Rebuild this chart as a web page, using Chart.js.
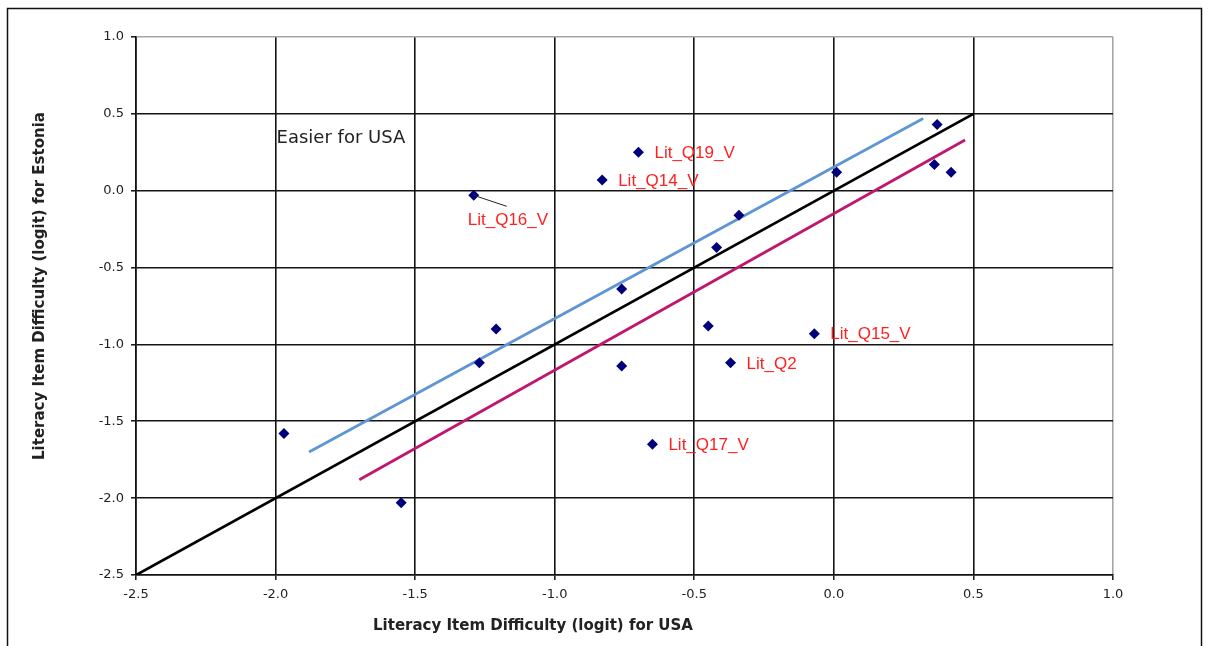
<!DOCTYPE html>
<html>
<head>
<meta charset="utf-8">
<script src="https://cdn.jsdelivr.net/npm/chart.js@4/dist/chart.umd.min.js"></script>
<style>
  html, body { margin: 0; padding: 0; background: #fff; }
  #wrap { width: 1208px; height: 646px; }
</style>
</head>
<body>
<div id="wrap"><canvas id="itemChart" width="1208" height="646"></canvas></div>
<script>
// item difficulties (logit), USA on x, Estonia on y
const usaDifficulty = [-1.97, -1.55, -1.21, -1.27, -0.76, -0.45, -0.37, -0.07, -0.65,
                       -1.29, -0.83, -0.70, -0.34, -0.42, -0.76, 0.01, 0.37, 0.36, 0.42];
const estoniaDifficulty = [-1.58, -2.03, -0.90, -1.12, -1.14, -0.88, -1.12, -0.93, -1.65,
                           -0.03, 0.07, 0.25, -0.16, -0.37, -0.64, 0.12, 0.43, 0.17, 0.12];
const itemLabels = ['', '', '', '', '', '', 'Lit_Q2', 'Lit_Q15_V', 'Lit_Q17_V',
                    'Lit_Q16_V', 'Lit_Q14_V', 'Lit_Q19_V', '', '', '', '', '', '', ''];

// reference lines
const identityX = [-2.5, 0.5];
const identityY = [-2.5, 0.5];
const upperBandX = [-1.88, 0.32];
const upperBandY = [-1.70, 0.47];
const lowerBandX = [-1.70, 0.47];
const lowerBandY = [-1.88, 0.33];

const axisMin = -2.5;
const axisMax = 1.0;
const axisStep = 0.5;

const toPoints = (xs, ys) => xs.map((x, i) => ({ x: x, y: ys[i] }));

const frame = {
  id: 'frame',
  beforeDraw(chart) {
    const c = chart.ctx;
    c.save();
    c.fillStyle = '#fff';
    c.fillRect(0, 0, chart.width, chart.height);
    c.strokeStyle = '#111';
    c.lineWidth = 1.5;
    c.strokeRect(7.5, 8.5, 1194, 700);
    c.restore();
  }
};

const labelOffsets = { 'Lit_Q16_V': { dx: -6, dy: 24, lead: [33, 11] } };

const notes = {
  id: 'notes',
  afterDatasetsDraw(chart) {
    const c = chart.ctx;
    const meta = chart.getDatasetMeta(0);
    c.save();
    c.font = '17px "Liberation Sans", Arial, sans-serif';
    c.fillStyle = '#ff1f1f';
    c.textBaseline = 'middle';
    c.textAlign = 'left';
    meta.data.forEach((pt, i) => {
      const txt = itemLabels[i];
      if (!txt) return;
      const off = labelOffsets[txt] || { dx: 16, dy: 0 };
      if (off.lead) {
        c.strokeStyle = '#222';
        c.lineWidth = 1;
        c.beginPath();
        c.moveTo(pt.x, pt.y);
        c.lineTo(pt.x + off.lead[0], pt.y + off.lead[1]);
        c.stroke();
      }
      c.fillText(txt, pt.x + off.dx, pt.y + off.dy + 1);
    });

    const xs = chart.scales.x, ys = chart.scales.y;
    c.fillStyle = '#222';
    c.font = '18px "DejaVu Sans", sans-serif';
    c.fillText('Easier for USA', xs.getPixelForValue(-2.0) + 1, ys.getPixelForValue(0.34));

    c.font = 'bold 15px "DejaVu Sans", sans-serif';
    c.textAlign = 'center';
    c.fillText('Literacy Item Difficulty (logit) for USA', 533, 626);
    c.translate(40, 286);
    c.rotate(-Math.PI / 2);
    c.fillText('Literacy Item Difficulty (logit) for Estonia', 0, 0);
    c.restore();
  }
};

const gridColor = (ctx) => (ctx.tick && ctx.tick.value === axisMax) ? '#a6a6a6' : '#141414';

const axisCommon = {
  type: 'linear',
  min: axisMin,
  max: axisMax,
  ticks: {
    stepSize: axisStep,
    color: '#222',
    padding: 7,
    font: { family: '"DejaVu Sans", sans-serif', size: 13 },
    callback: (v) => v.toFixed(1)
  },
  grid: { color: gridColor, lineWidth: 1.6, tickLength: 5, tickColor: '#222' },
  border: { display: true, color: '#111', width: 1.6 },
  title: { display: false }
};

new Chart(document.getElementById('itemChart').getContext('2d'), {
  type: 'scatter',
  data: {
    datasets: [
      {
        label: 'Items',
        data: toPoints(usaDifficulty, estoniaDifficulty),
        pointStyle: 'rectRot',
        pointRadius: 5.5,
        pointBackgroundColor: '#00007a',
        pointBorderColor: '#00007a',
        pointBorderWidth: 0,
        order: 0
      },
      {
        label: 'Easier for USA band',
        data: toPoints(upperBandX, upperBandY),
        showLine: true,
        borderColor: '#5f95d2',
        borderWidth: 2.8,
        pointRadius: 0,
        order: 2
      },
      {
        label: 'Identity',
        data: toPoints(identityX, identityY),
        showLine: true,
        borderColor: '#000',
        borderWidth: 2.8,
        pointRadius: 0,
        order: 1
      },
      {
        label: 'Easier for Estonia band',
        data: toPoints(lowerBandX, lowerBandY),
        showLine: true,
        borderColor: '#c0166f',
        borderWidth: 2.8,
        pointRadius: 0,
        order: 3
      }
    ]
  },
  options: {
    responsive: false,
    animation: false,
    devicePixelRatio: 1,
    layout: { padding: { top: 37, right: 95, left: 0, bottom: 0 } },
    plugins: { legend: { display: false }, tooltip: { enabled: false } },
    scales: {
      x: Object.assign({}, axisCommon, {
        afterFit(scale) { scale.height = 71; }
      }),
      y: Object.assign({}, axisCommon, {
        afterFit(scale) { scale.width = 136; }
      })
    }
  },
  plugins: [frame, notes]
});
</script>
</body>
</html>
